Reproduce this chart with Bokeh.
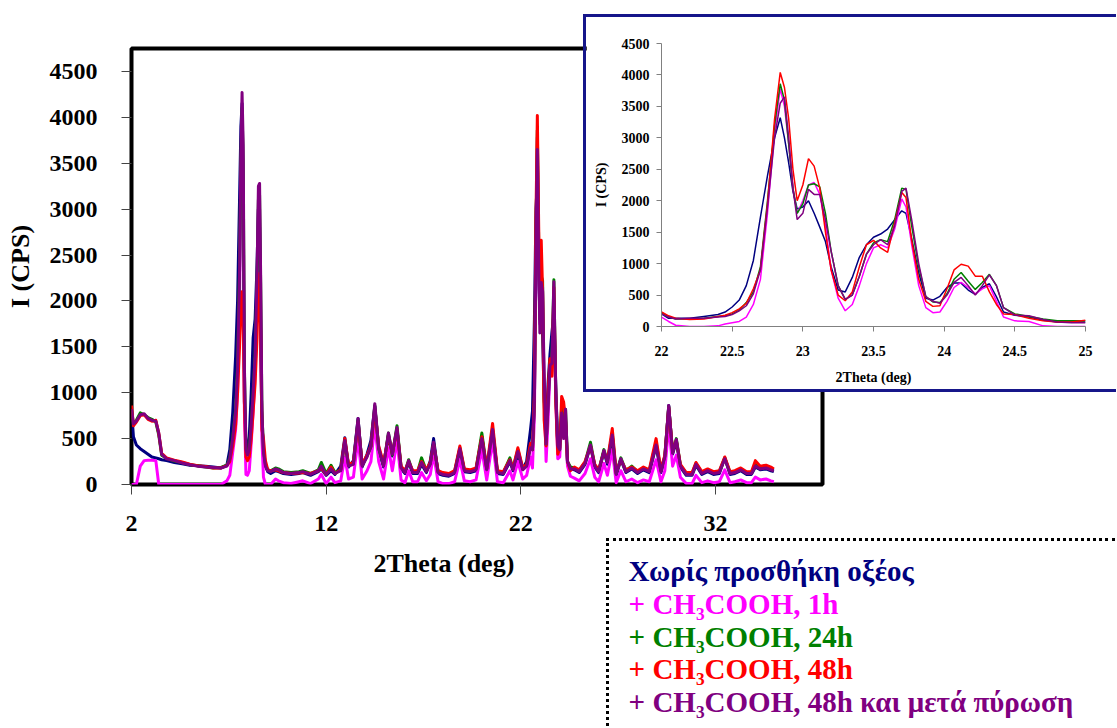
from bokeh.plotting import figure
from bokeh.models import Range1d, FixedTicker, Title, ColumnDataSource
from bokeh.core.properties import value
from bokeh.embed import file_html
from bokeh.resources import INLINE

FONT = "Liberation Serif"

# ---------------- data ----------------
series_names = [
    "Χωρίς προσθήκη οξέος",
    "+ CH₃COOH, 1h",
    "+ CH₃COOH, 24h",
    "+ CH₃COOH, 48h",
    "+ CH₃COOH, 48h  και μετά πύρωση",
]
series_colors = ["#000080", "#FF00FF", "#008000", "#FF0000", "#800080"]

main_xticks = [2, 12, 22, 32]
main_xtick_labels = ["2", "12", "22", "32"]
main_yticks = [0, 500, 1000, 1500, 2000, 2500, 3000, 3500, 4000, 4500]
inset_xticks = [22, 22.5, 23, 23.5, 24, 24.5, 25]
inset_xtick_labels = ["22", "22.5", "23", "23.5", "24", "24.5", "25"]
inset_yticks = [0, 500, 1000, 1500, 2000, 2500, 3000, 3500, 4000, 4500]

main_x = [
    2.0, 2.1, 2.25, 2.45, 2.65, 2.85, 3.05, 3.25, 3.4, 3.55, 3.8, 4.2, 4.6, 5.0, 5.4, 5.8, 6.2, 6.6, 6.9,
    7.05, 7.2, 7.35, 7.45, 7.55, 7.62, 7.68, 7.74, 7.8, 7.88, 7.96, 8.05, 8.15, 8.25, 8.35, 8.45, 8.52, 8.58,
    8.64, 8.7, 8.78, 8.88, 9.0, 9.15,
    9.4, 9.55, 9.8, 10.2, 10.6, 10.8, 11.2, 11.6, 11.75, 12.0, 12.25, 12.45, 12.75, 12.96, 13.15,
    13.4, 13.64, 13.85, 14.1, 14.3, 14.5, 14.7, 14.95, 15.2, 15.4, 15.64, 15.85, 16.05, 16.24, 16.45,
    16.7, 16.9, 17.15, 17.35, 17.52, 17.75, 18.0, 18.3, 18.6, 18.87, 19.1, 19.4, 19.7, 20.0, 20.25,
    20.55, 20.8, 21.1, 21.44, 21.6, 21.85, 22.1, 22.3, 22.5,
    22.6, 22.7, 22.78, 22.85, 22.92, 22.98, 23.05, 23.12, 23.2, 23.3, 23.4, 23.5, 23.6, 23.7, 23.8,
    23.9, 24.0, 24.1, 24.2, 24.3, 24.4, 24.55,
    24.75, 25.0, 25.3, 25.58, 25.8, 26.0, 26.27, 26.45, 26.7, 26.9, 27.14, 27.4, 27.7, 28.0, 28.3,
    28.6, 28.95, 29.2, 29.4, 29.6, 29.8, 29.99, 30.2, 30.5, 30.8, 31.0, 31.3, 31.6, 31.9, 32.2,
    32.48, 32.75, 33.0, 33.3, 33.6, 33.85, 34.05, 34.3, 34.6, 34.85, 35.0,
]
main_navy = [
    820, 520, 430, 390, 360, 330, 300, 290, 280, 270, 260, 240, 225, 210, 205, 200, 190, 180, 210,
    380, 780, 1400, 2000, 3100, 3900, 4150, 2700, 900, 420, 400, 520, 1000, 1600, 1800, 2400, 3000, 2800,
    1400, 700, 330, 200, 140, 120,
    150, 140, 120, 110, 120, 130, 100, 140, 170, 100, 150, 110, 200, 510, 190,
    260, 720, 190, 330, 480, 850, 380, 190, 540, 310, 600, 170, 120, 240, 120,
    120, 220, 130, 260, 500, 120, 100, 90, 120, 380, 140, 130, 150, 520, 150,
    580, 120, 110, 250, 150, 330, 170, 250, 600,
    800, 1800, 3000, 3300, 2300, 1850, 2000, 1600, 950, 550, 1100, 1420, 1660, 1850, 1050,
    420, 520, 700, 520, 700, 230, 170,
    160, 130, 220, 420, 190, 130, 360, 220, 520, 100, 270, 130, 170, 120, 160,
    130, 420, 130, 280, 860, 330, 470, 190, 100, 100, 210, 110, 140, 110, 120,
    290, 110, 120, 150, 110, 110, 190, 160, 170, 150, 140,
]
main_magenta = [
    0, 0, 0, 200, 260, 265, 265, 260, 0, 0, 0, 0, 0, 0, 0, 0, 0, 0, 40,
    100, 350, 600, 1000, 2000, 3300, 4000, 3200, 800, 110, 100, 150, 450, 800, 1200, 2000, 3000, 3000,
    1800, 500, 80, 0, 0, 0,
    60, 40, 20, 10, 30, 40, 10, 60, 110, 10, 80, 20, 40, 300, 60,
    80, 500, 60, 150, 250, 650, 250, 60, 400, 150, 480, 50, 20, 150, 30,
    30, 130, 40, 110, 330, 30, 10, 10, 30, 270, 40, 30, 50, 380, 50,
    480, 30, 20, 150, 50, 250, 60, 100, 300,
    180, 750, 2600, 3780, 2500, 1750, 2280, 2150, 1000, 250, 700, 1250, 1300, 2030, 900,
    280, 300, 700, 580, 650, 200, 90,
    70, 40, 120, 280, 80, 30, 230, 100, 380, 20, 150, 30, 60, 20, 50,
    30, 270, 30, 150, 650, 200, 320, 80, 10, 10, 100, 20, 40, 20, 30,
    160, 20, 30, 50, 20, 20, 80, 50, 60, 40, 30,
]
main_green = [
    800, 650, 700, 780, 760, 730, 710, 680, 540, 320, 285, 255, 240, 215, 205, 190, 180, 185, 210,
    290, 520, 820, 1300, 2350, 3500, 4100, 3500, 1250, 400, 340, 400, 650, 1000, 1400, 2200, 3100, 3150,
    2100, 800, 380, 220, 160, 150,
    180, 170, 140, 130, 140, 150, 120, 160, 240, 120, 210, 130, 160, 470, 210,
    230, 700, 210, 310, 410, 860, 390, 210, 560, 320, 640, 190, 140, 270, 140,
    140, 290, 150, 230, 450, 140, 120, 110, 140, 400, 160, 150, 170, 560, 170,
    610, 140, 130, 290, 170, 380, 170, 210, 420,
    380, 900, 2700, 3860, 2600, 1800, 2270, 2220, 900, 430, 900, 1350, 1380, 2230, 950,
    400, 380, 860, 600, 820, 250, 190,
    180, 150, 240, 460, 210, 150, 380, 250, 560, 120, 290, 150, 200, 140, 180,
    150, 460, 150, 310, 850, 350, 500, 210, 120, 120, 230, 130, 160, 130, 140,
    290, 130, 140, 170, 130, 130, 220, 180, 190, 170, 160,
]
main_red = [
    860, 640, 680, 750, 760, 710, 690, 700, 560, 340, 290, 265, 245, 220, 205, 195, 180, 180, 205,
    250, 420, 650, 1000, 1500, 1900, 2100, 1800, 900, 300, 260, 300, 500, 800, 1100, 1600, 2200, 2300,
    1600, 600, 500, 260, 160, 150,
    160, 150, 130, 120, 125, 130, 120, 150, 180, 110, 190, 120, 160, 500, 220,
    240, 680, 220, 320, 420, 820, 420, 230, 530, 340, 600, 200, 150, 250, 150,
    150, 250, 160, 240, 440, 150, 130, 120, 150, 420, 170, 160, 180, 520, 180,
    665, 150, 140, 270, 180, 400, 180, 220, 450,
    380, 1000, 2900, 4020, 2800, 2000, 2660, 2100, 700, 420, 1000, 1370, 1180, 2150, 900,
    330, 400, 960, 900, 700, 250, 150,
    190, 160, 250, 420, 220, 160, 360, 260, 610, 130, 270, 160, 190, 150, 190,
    160, 500, 160, 320, 840, 360, 480, 220, 130, 130, 240, 140, 170, 140, 150,
    300, 140, 150, 180, 140, 140, 260, 200, 210, 190, 170,
]
main_purple = [
    820, 660, 690, 760, 770, 720, 700, 690, 560, 330, 280, 260, 235, 215, 200, 190, 185, 180, 200,
    280, 500, 800, 1250, 2300, 3600, 4270, 3700, 1300, 380, 320, 380, 650, 1000, 1400, 2300, 3250, 3280,
    2200, 800, 350, 200, 150, 140,
    170, 160, 130, 120, 130, 140, 110, 150, 200, 110, 170, 120, 150, 480, 200,
    220, 720, 200, 300, 420, 880, 400, 200, 560, 330, 620, 180, 130, 260, 130,
    130, 240, 140, 220, 460, 130, 110, 100, 130, 390, 150, 140, 160, 500, 160,
    600, 130, 120, 260, 160, 360, 160, 200, 400,
    380, 900, 2600, 3650, 2400, 1650, 2200, 2100, 1200, 440, 850, 1300, 1320, 2210, 1000,
    420, 380, 780, 500, 820, 250, 170,
    170, 140, 230, 430, 200, 140, 370, 240, 540, 110, 280, 140, 180, 130, 170,
    140, 430, 140, 300, 860, 340, 490, 200, 110, 110, 220, 120, 150, 120, 130,
    280, 120, 130, 160, 120, 120, 200, 170, 180, 160, 150,
]

inset_x = [
    22.0, 22.05, 22.1, 22.2, 22.3, 22.4, 22.45, 22.5, 22.55, 22.6, 22.65, 22.7, 22.75, 22.8, 22.84,
    22.87, 22.9, 22.93, 22.96, 23.0, 23.04, 23.08, 23.12, 23.16, 23.2, 23.25, 23.3, 23.35, 23.4, 23.45,
    23.5, 23.55, 23.6, 23.65, 23.7, 23.73, 23.77, 23.82, 23.87, 23.92, 23.97, 24.02, 24.07, 24.12, 24.17,
    24.22, 24.27, 24.32, 24.37, 24.42, 24.5, 24.6, 24.7, 24.8, 24.9, 25.0,
]
inset_navy = [
    200, 130, 130, 130, 160, 190, 230, 310, 420, 650, 1050, 1740, 2400, 3000, 3320,
    3000, 2600, 2150, 1870, 1900, 2000, 1800, 1580, 1350, 950, 580, 550, 780, 1100, 1300,
    1420, 1470, 1550, 1700, 1840, 1800, 1400, 850, 450, 420, 480, 620, 690, 690, 580,
    510, 620, 680, 470, 230, 180, 150, 100, 70, 70, 70,
]
inset_magenta = [
    150, 80, 20, 0, 0, 10, 40, 60, 80, 150, 350, 750, 1800, 3100, 3780,
    3500, 2900, 2200, 1800, 2000, 2250, 2290, 2100, 1600, 900, 450, 250, 350, 650, 1000,
    1250, 1300, 1250, 1550, 2030, 1900, 1300, 650, 300, 220, 230, 400, 620, 700, 620,
    520, 600, 650, 400, 150, 90, 80, 10, 0, 0, 0,
]
inset_green = [
    220, 160, 120, 120, 130, 160, 170, 200, 260, 380, 550, 950, 2000, 3200, 3860,
    3600, 2900, 2200, 1800, 1950, 2250, 2270, 2220, 1800, 1200, 650, 430, 500, 800, 1150,
    1330, 1380, 1350, 1700, 2200, 2180, 1600, 950, 480, 390, 380, 520, 750, 860, 720,
    590, 700, 830, 650, 300, 200, 160, 120, 90, 90, 90,
]
inset_red = [
    230, 170, 130, 110, 120, 160, 180, 220, 280, 370, 600, 900, 1950, 3300, 4040,
    3800, 3300, 2500, 2000, 2250, 2670, 2550, 2200, 1500, 900, 500, 410, 550, 950, 1300,
    1370, 1250, 1180, 1650, 2130, 2050, 1370, 750, 400, 320, 330, 600, 900, 990, 960,
    800, 800, 550, 350, 200, 190, 130, 90, 70, 70, 100,
]
inset_purple = [
    200, 150, 120, 130, 130, 150, 160, 190, 250, 330, 520, 900, 1900, 3000, 3550,
    3650, 3000, 2200, 1700, 1800, 2180, 2100, 2100, 1700, 1200, 650, 430, 500, 800, 1150,
    1300, 1380, 1300, 1600, 2150, 2200, 1700, 1000, 470, 400, 370, 500, 700, 780, 650,
    500, 650, 820, 650, 300, 180, 170, 110, 70, 60, 60,
]

main_series = [main_navy, main_magenta, main_green, main_red, main_purple]
inset_series = [inset_navy, inset_magenta, inset_green, inset_red, inset_purple]
for s in main_series:
    assert len(s) == len(main_x), len(s)
for s in inset_series:
    assert len(s) == len(inset_x), len(s)


def style_axis(ax, size, tick_out, standoff, label_size, label_standoff, tick_color):
    ax.major_label_text_font = FONT
    ax.major_label_text_font_style = "bold"
    ax.major_label_text_font_size = size
    ax.major_label_text_color = "black"
    ax.major_tick_out = tick_out
    ax.major_tick_in = 0
    ax.major_tick_line_color = tick_color
    ax.minor_tick_line_color = None
    ax.major_label_standoff = standoff
    ax.axis_label_text_font = FONT
    ax.axis_label_text_font_style = "bold"
    ax.axis_label_text_font_size = label_size
    ax.axis_label_text_color = "black"
    ax.axis_label_standoff = label_standoff


# ---------------- main chart ----------------
main = figure(
    frame_width=691, frame_height=436,
    min_border_left=131, min_border_top=40, min_border_right=8, min_border_bottom=112,
    x_range=Range1d(2, 37.5), y_range=Range1d(0, 4750),
    output_backend="svg", toolbar_location=None,
)
main.grid.visible = False
main.outline_line_color = "black"
main.outline_line_width = 4
main.background_fill_color = "white"
main.border_fill_color = "white"
main.xaxis.ticker = FixedTicker(ticks=main_xticks)
main.xaxis.major_label_overrides = dict(zip(main_xticks, main_xtick_labels))
main.yaxis.ticker = FixedTicker(ticks=main_yticks)
main.xaxis.axis_line_color = None
main.yaxis.axis_line_color = None
style_axis(main.xaxis[0], "24px", 10, 21, "26px", 14, "#444444")
style_axis(main.yaxis[0], "24px", 10, 24, "26px", 12, "#444444")
main.yaxis.axis_label = "I (CPS)"
main.add_layout(Title(text="2Theta (deg)", align="left", offset=242, text_font=FONT,
                      text_font_size="26px", text_font_style="bold", text_color="black",
                      standoff=26), "below")

for ys, col in zip(main_series, series_colors):
    main.line(main_x, ys, line_color=col, line_width=3, line_join="round")

main.styles = {"position": "absolute", "left": "0px", "top": "8px"}

# ---------------- inset ----------------
inset = figure(
    frame_width=424, frame_height=283,
    min_border_left=75, min_border_top=26, min_border_right=31, min_border_bottom=63,
    x_range=Range1d(22, 25), y_range=Range1d(0, 4500),
    output_backend="svg", toolbar_location=None,
)
inset.grid.visible = False
inset.outline_line_color = None
inset.background_fill_color = "white"
inset.border_fill_color = "white"
inset.xaxis.ticker = FixedTicker(ticks=inset_xticks)
inset.xaxis.major_label_overrides = dict(zip(inset_xticks, inset_xtick_labels))
inset.yaxis.ticker = FixedTicker(ticks=inset_yticks)
for ax in (inset.xaxis[0], inset.yaxis[0]):
    ax.axis_line_color = "#808080"
    ax.axis_line_width = 1
style_axis(inset.xaxis[0], "14px", 5, 14, "14px", 11, "#808080")
style_axis(inset.yaxis[0], "14px", 5, 7, "14px", 10, "#808080")
inset.xaxis.axis_label = "2Theta (deg)"
inset.yaxis.axis_label = "I (CPS)"
for ys, col in zip(inset_series, series_colors):
    inset.line(inset_x, ys, line_color=col, line_width=1.5)

box = "3px solid #16168a"
inset.styles = {"position": "absolute", "left": "583px", "top": "14px",
                "border-left": box, "border-top": box, "border-bottom": box,
                "box-sizing": "content-box"}

# ---------------- legend box ----------------
LW, LH = 506, 185
leg = figure(width=LW, height=LH, x_range=Range1d(0, LW), y_range=Range1d(LH, 0),
             x_axis_type=None, y_axis_type=None,
             min_border=0, output_backend="svg", toolbar_location=None)
leg.grid.visible = False
leg.outline_line_color = None
leg.background_fill_color = "white"
leg.border_fill_color = "white"
src = ColumnDataSource(dict(
    x=[19] * len(series_names),
    y=[29 + i * 32.3 for i in range(len(series_names))],
    t=series_names,
    c=series_colors,
))
leg.text(x="x", y="y", text="t", text_color="c", source=src,
         text_font=value(FONT), text_font_style="bold", text_font_size="29px",
         text_align="left", text_baseline="alphabetic")
dots = "3px dotted black"
leg.styles = {"position": "absolute", "left": "606px", "top": "538px",
              "border-left": dots, "border-top": dots, "box-sizing": "content-box"}

# three independent roots, positioned absolutely on the page (no frame alignment between them)
p = [main, inset, leg]

open("out.html", "w").write(file_html(p, INLINE))
